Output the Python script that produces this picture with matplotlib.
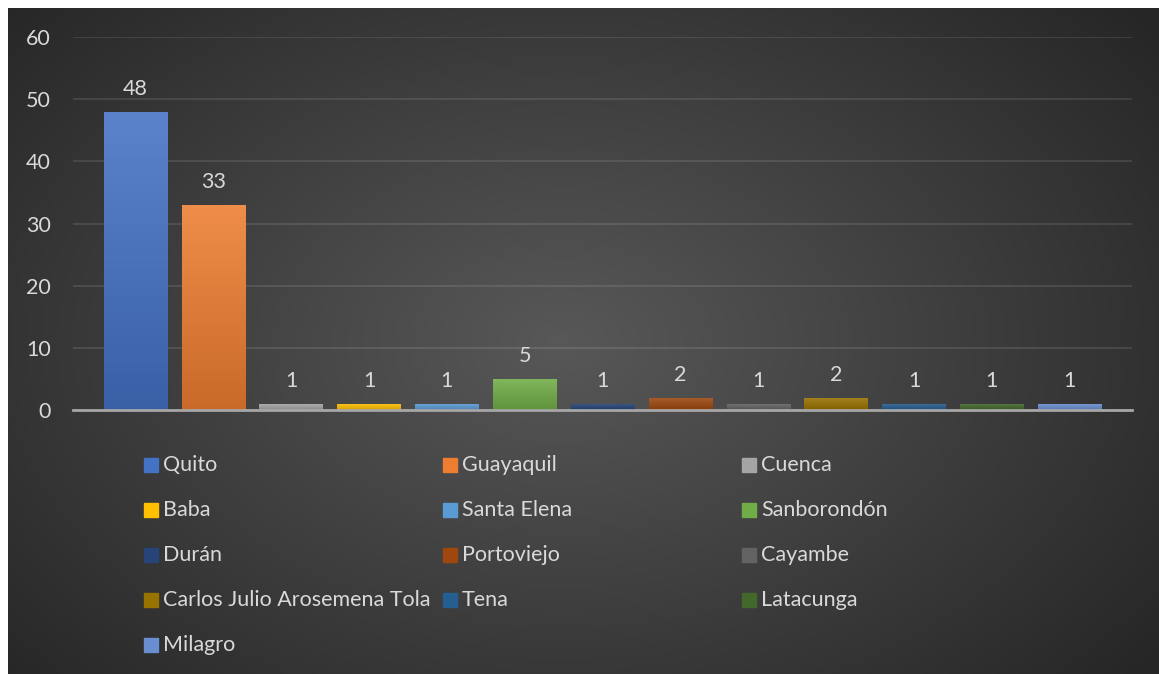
import matplotlib
matplotlib.use("Agg")
import matplotlib.pyplot as plt
import matplotlib.colors as mcolors
import numpy as np
from matplotlib.patches import Rectangle

# data
cities = ["Quito", "Guayaquil", "Cuenca", "Baba", "Santa Elena", "Sanborondón",
          "Durán", "Portoviejo", "Cayambe", "Carlos Julio Arosemena Tola",
          "Tena", "Latacunga", "Milagro"]
counts = [48, 33, 1, 1, 1, 5, 1, 2, 1, 2, 1, 1, 1]
colors = ["#4472C4", "#ED7D31", "#A5A5A5", "#FFC000", "#5B9BD5", "#70AD47",
          "#264478", "#9E480E", "#636363", "#997300", "#255E91", "#43682B",
          "#698ED0"]
yticks = [0, 10, 20, 30, 40, 50, 60]

plt.rcParams['font.family'] = ['Lato', 'DejaVu Sans']
txt = "#D9D9D9"
fs = 15.5

W, H = 1159, 674
fig = plt.figure(figsize=(W / 100, H / 100), dpi=100, facecolor="white")

# dark radial background
bg = fig.add_axes([8 / W, 0, (W - 8) / W, (H - 8) / H])
yy, xx = np.mgrid[0:300, 0:500]
d = np.sqrt(((xx - 240) / 330.0) ** 2 + ((yy - 150) / 230.0) ** 2)
d = np.clip(d, 0, 1)
shade = 0.345 - 0.195 * d
img = np.dstack([shade, shade, shade])
bg.imshow(img, aspect="auto", extent=[0, 1, 0, 1], interpolation="bilinear")
bg.set_axis_off()

ax = fig.add_axes([73 / W, (H - 410) / H, (1132 - 73) / W, 373 / H])
ax.set_facecolor("none")
x = np.arange(len(cities))
bars = ax.bar(x, counts, width=0.816, color=colors, zorder=3)

# soft vertical gradient on each bar (lighter top, darker bottom)
for b, c in zip(bars, colors):
    rgb = np.array(mcolors.to_rgb(c))
    top = rgb + (1 - rgb) * 0.12
    bot = rgb * 0.85
    t = np.linspace(0, 1, 64)[:, None]
    grad = top * (1 - t) + bot * t
    grad = grad[:, None, :]
    x0, w, h = b.get_x(), b.get_width(), b.get_height()
    im = ax.imshow(grad, aspect="auto", extent=(x0, x0 + w, 0, h),
                   interpolation="bilinear", zorder=3.1)
    im.set_clip_path(b)

for xi, v in zip(x, counts):
    ax.annotate(str(v), (xi, v), xytext=(0, 9), textcoords="offset points",
                ha="center", va="bottom", color=txt, fontsize=fs)

ax.set_xlim(-0.803, 12.8)
ax.set_ylim(0, 60)
ax.set_yticks(yticks)
ax.set_xticks([])
ax.grid(axis="y", color="#FFFFFF", alpha=0.1, linewidth=1.5, zorder=0)
ax.tick_params(axis="y", length=0, pad=16, labelcolor=txt, labelsize=fs)
for s in ["top", "right", "left"]:
    ax.spines[s].set_visible(False)
ax.spines["bottom"].set_color("#A6A6A6")
ax.spines["bottom"].set_linewidth(2)
ax.spines["bottom"].set_zorder(4)

# legend, three equal columns filled row by row
col_x = [144, 443, 742]
row_y = [465, 510, 555, 600, 645]
for i, (name, c) in enumerate(zip(cities, colors)):
    cx = col_x[i % 3]
    cy = row_y[i // 3]
    fig.patches.append(Rectangle((cx / W, (H - cy - 7) / H), 14 / W, 14 / H,
                                 transform=fig.transFigure, color=c, figure=fig))
    fig.text((cx + 19) / W, (H - cy) / H, name, color=txt, fontsize=fs,
             va="center", ha="left")

fig.savefig("out.png", dpi=100, facecolor=fig.get_facecolor())
